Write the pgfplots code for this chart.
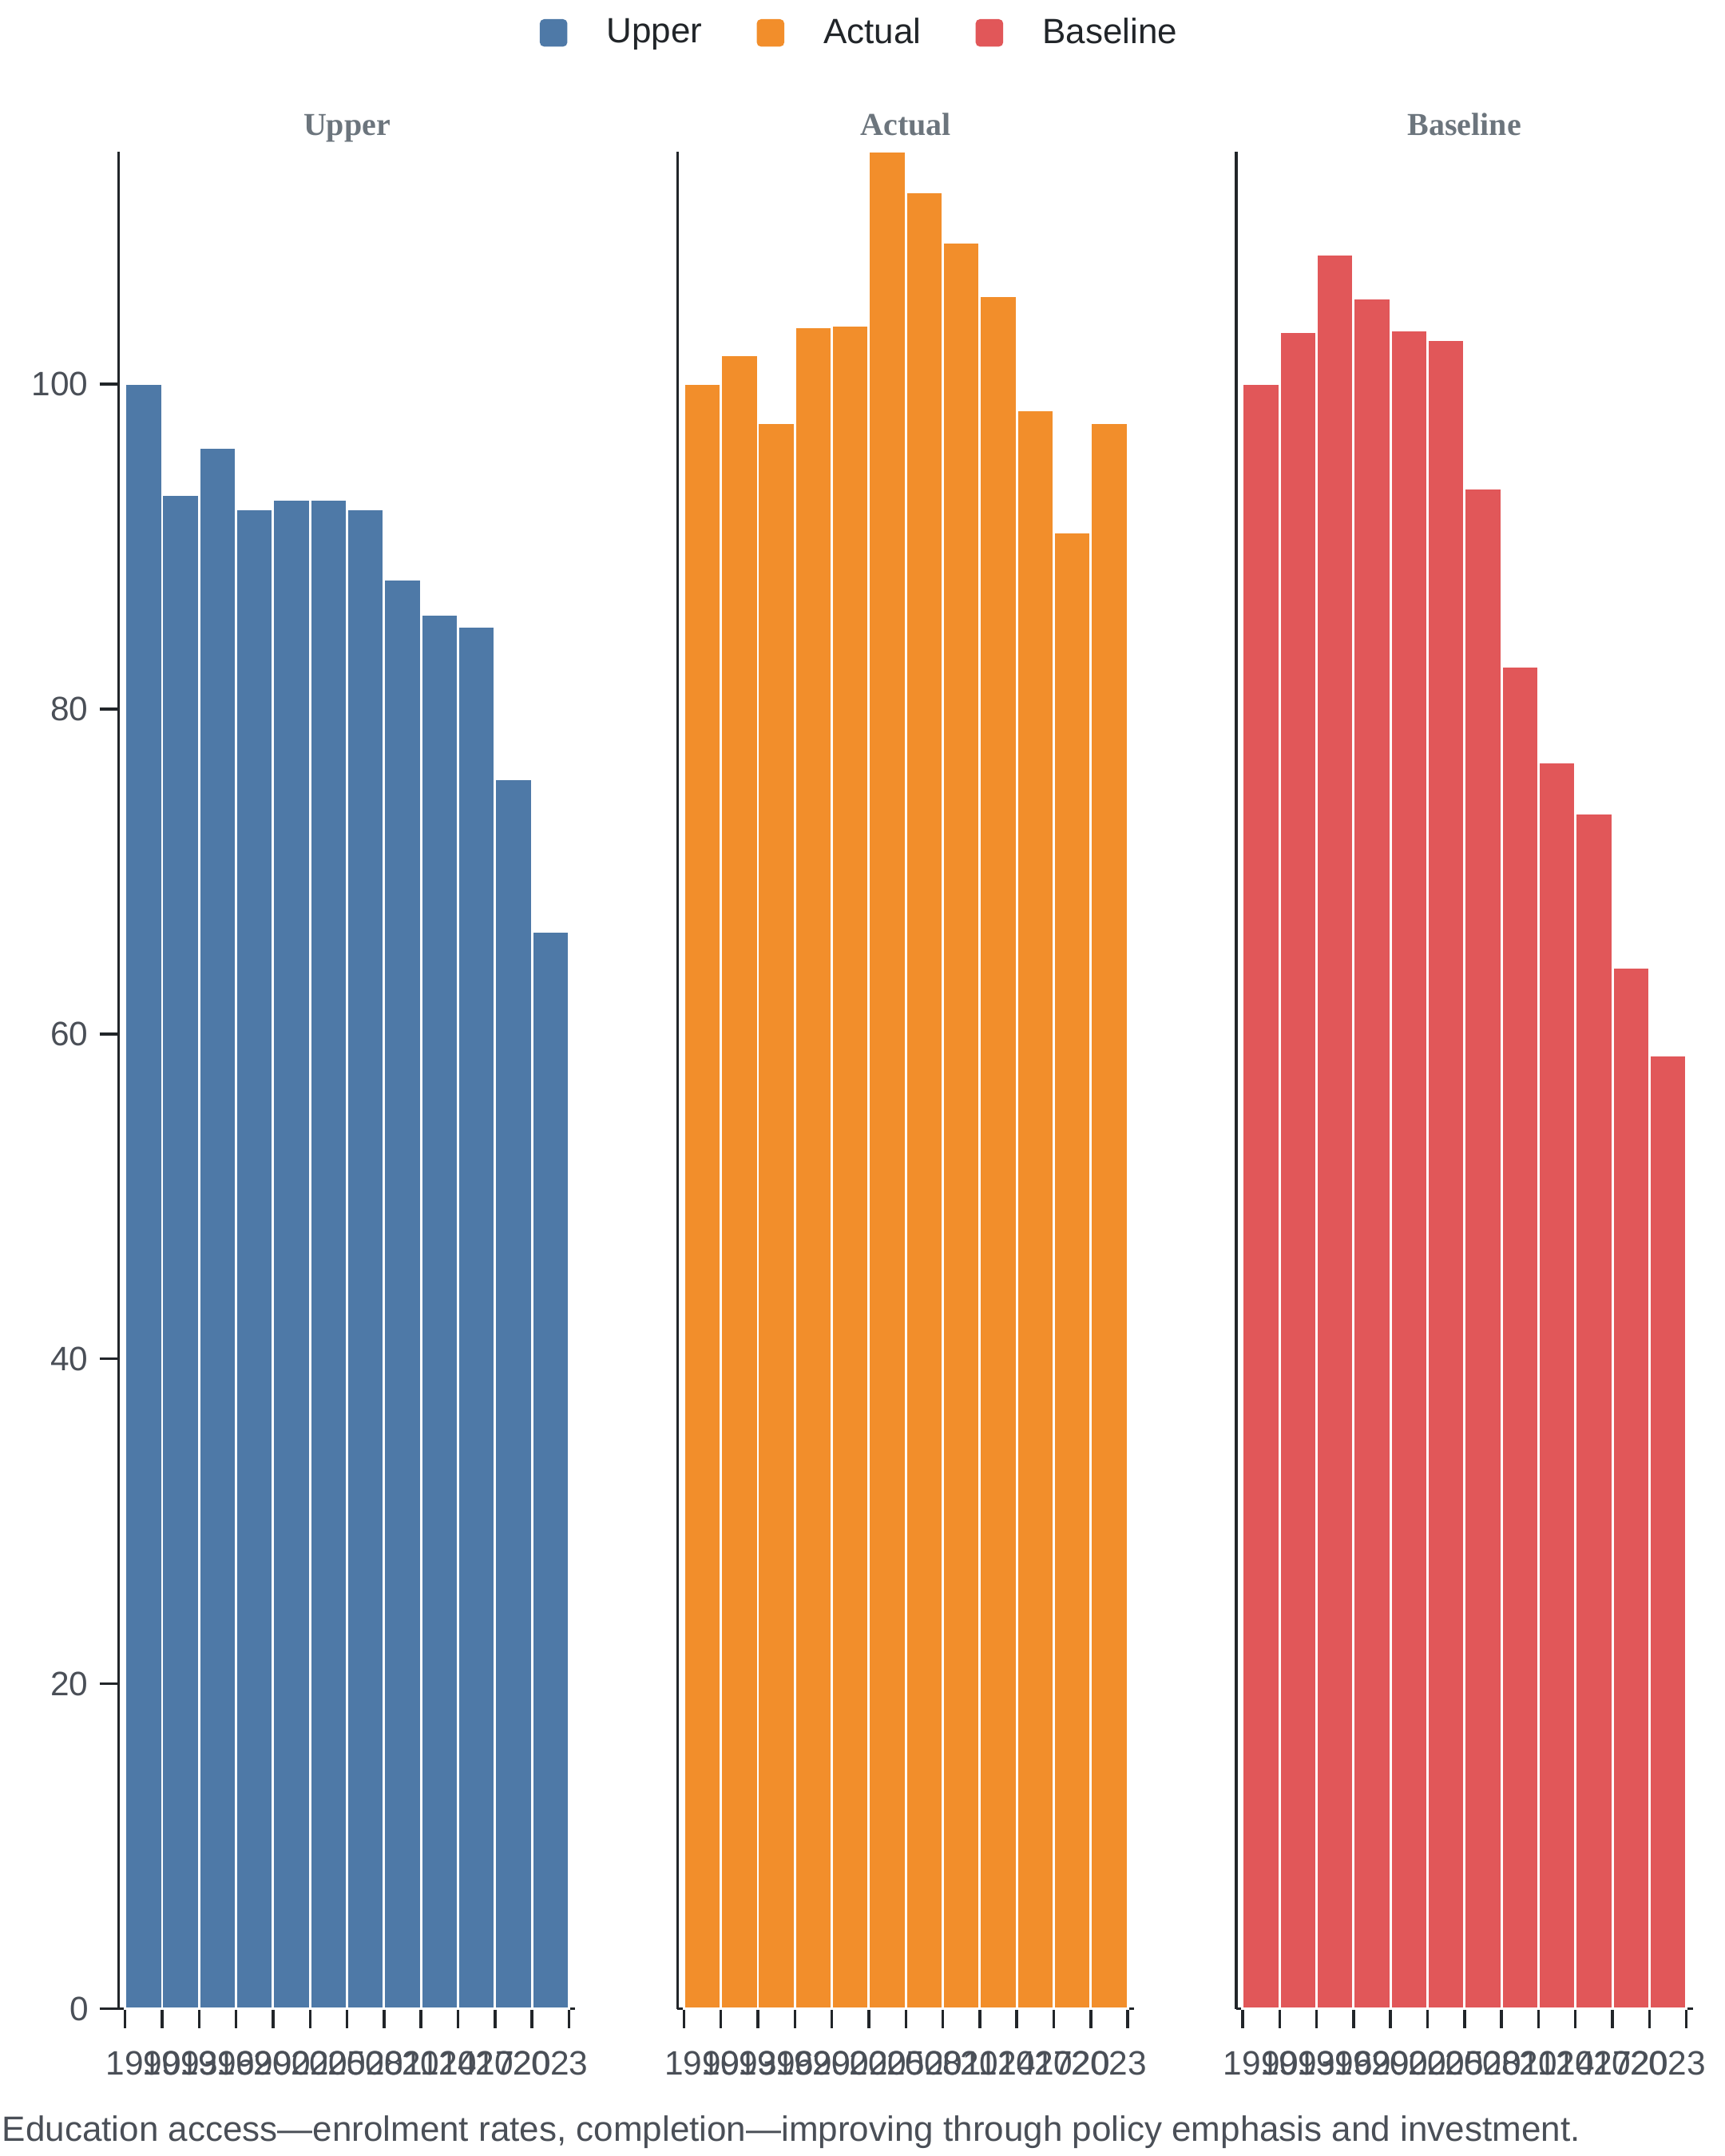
\documentclass[border=0pt]{standalone}
\usepackage{pgfplots}
\pgfplotsset{compat=1.18}
\usepackage{fontspec}
\setmainfont{Liberation Sans}
\newfontfamily\serifbold{Liberation Serif}
\definecolor{cU}{HTML}{4E79A7}
\definecolor{cA}{HTML}{F28E2B}
\definecolor{cB}{HTML}{E15759}
\definecolor{axc}{HTML}{212529}
\definecolor{tlc}{HTML}{4A4F57}
\definecolor{ttl}{HTML}{6C757D}

\pgfplotstableread{
x y
0.5 100
1.5 93.2
2.5 96.1
3.5 92.3
4.5 92.9
5.5 92.9
6.5 92.3
7.5 88.0
8.5 85.8
9.5 85.1
10.5 75.7
11.5 66.3
}\upper
\pgfplotstableread{
x y
0.5 100
1.5 101.8
2.5 97.6
3.5 103.5
4.5 103.6
5.5 114.3
6.5 111.8
7.5 108.7
8.5 105.4
9.5 98.4
10.5 90.9
11.5 97.6
}\actual
\pgfplotstableread{
x y
0.5 100
1.5 103.2
2.5 108.0
3.5 105.3
4.5 103.3
5.5 102.7
6.5 93.6
7.5 82.6
8.5 76.7
9.5 73.6
10.5 64.1
11.5 58.7
}\baseline

\pgfplotsset{
 panel/.style={
  scale only axis, width=142.9pt, height=581.4pt,
  xmin=-0.17, xmax=12.17, ymin=0, ymax=114.3,
  axis x line=bottom, axis y line=left,
  axis line style={-, line width=0.85pt, color=axc},
  xtick={0.5,1.5,...,11.5},
  xticklabels={1990,1993,1996,1999,2002,2005,2008,2011,2014,2017,2020,2023},
  xtick style={draw=none},
  extra x ticks={0,1,...,12},
  extra x tick labels={},
  extra x tick style={xtick style={draw=axc, line width=0.85pt}, grid=none},
  tick align=outside,
  major tick length=6pt,
  ytick style={line width=0.85pt, color=axc},
  yticklabel style={font=\fontsize{10.6}{13}\selectfont, color=tlc},
  xticklabel style={font=\fontsize{10.6}{13}\selectfont, color=tlc, yshift=-3.8pt},
  /pgf/number format/assume math mode=true,
  ybar, bar width=1, bar shift=0pt,
  title style={at={(0.5,1)}, anchor=base, yshift=-0.75pt, font=\serifbold\bfseries\fontsize{10}{12}\selectfont, color=ttl},
  clip=false,
 }
}

\begin{document}
\begin{tikzpicture}
\useasboundingbox (0,0) rectangle (540pt,-675pt);

\begin{axis}[panel, at={(37.18pt,-628.9pt)}, anchor=south west, title={Upper},
  ytick={0,20,40,60,80,100}]
\addplot[fill=cU, draw=white, line width=0.7pt] table[x=x,y=y]{\upper};
\end{axis}

\begin{axis}[panel, at={(212.1pt,-628.9pt)}, anchor=south west, title={Actual},
  ytick=\empty,
  legend style={draw=none, fill=none, at={(0.40,1.064)}, anchor=center,
    legend columns=3, font=\fontsize{11}{13}\selectfont, text=axc,
    /tikz/every even column/.append style={column sep=16pt},
    nodes={inner sep=1pt}},
  legend cell align=left]
\addlegendimage{legend image code/.code={\fill[cU, rounded corners=1.2pt] (0pt,-4.1pt) rectangle (8.25pt,4.1pt);}}
\addlegendentry{\hspace{11.3pt}Upper}
\addlegendimage{legend image code/.code={\fill[cA, rounded corners=1.2pt] (0pt,-4.1pt) rectangle (8.25pt,4.1pt);}}
\addlegendentry{\hspace{11.3pt}Actual}
\addlegendimage{legend image code/.code={\fill[cB, rounded corners=1.2pt] (0pt,-4.1pt) rectangle (8.25pt,4.1pt);}}
\addlegendentry{\hspace{11.3pt}Baseline}
\addplot[forget plot, fill=cA, draw=white, line width=0.7pt] table[x=x,y=y]{\actual};
\end{axis}

\begin{axis}[panel, at={(387pt,-628.9pt)}, anchor=south west, title={Baseline},
  ytick=\empty]
\addplot[fill=cB, draw=white, line width=0.7pt] table[x=x,y=y]{\baseline};
\end{axis}

\node[anchor=west, inner sep=0pt, font=\fontsize{11}{13}\selectfont, text=tlc] at (0.5pt,-667.6pt)
  {Education access—enrolment rates, completion—improving through policy emphasis and investment.};
\end{tikzpicture}
\end{document}
